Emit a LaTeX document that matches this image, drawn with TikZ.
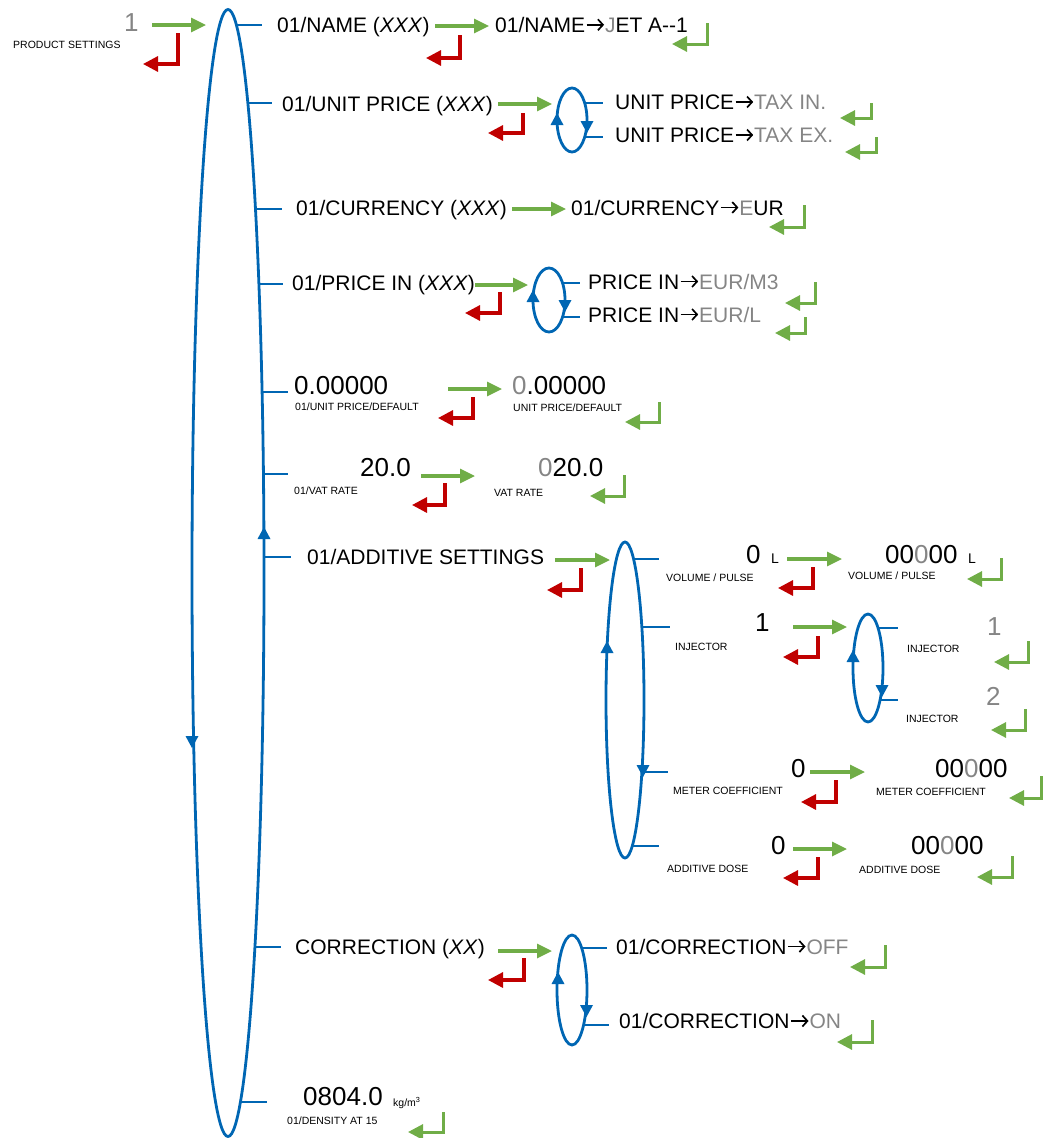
\documentclass[tikz,border=0pt]{standalone}
\usepackage{fontspec}
\setmainfont{Liberation Sans}
\usetikzlibrary{arrows.meta}
\definecolor{grn}{HTML}{70AD47}
\definecolor{rd}{HTML}{C00000}
\definecolor{blu}{HTML}{0066B3}
\definecolor{gry}{HTML}{858585}
\newcommand{\grayt}[1]{\textcolor{gry}{#1}}
\newcommand{\myarr}{\tikz[baseline=0pt,x=1pt,y=1pt]{\path (0,0) (20,0);\draw[black,line width=1.7pt,-{Straight Barb[length=5pt,width=11pt]}] (1.5,7.5) -- (19,7.5);}}
% green forward arrow: name, x1, x2, y
\newcommand\gomark[4]{\coordinate (#1a) at (#2,#4); \coordinate (#1b) at (#3,#4);
  \draw[goarr] (#1a) -- (#1b);}
% return arrow: style, name, x, ytop, ybot, xtip
\newcommand\retmark[6]{\coordinate (#2a) at (#3,#4); \coordinate (#2b) at (#6,#5);
  \draw[#1] (#2a) |- (#2b);}
% branch tick: x1, x2, y
\newcommand\branchto[3]{\draw[branch] (#1,#3) -- (#2,#3);}
\newcommand\uphead[2]{\fill[blu] (#1,#2) -- (#1-6.5,#2+12) -- (#1+6.5,#2+12) -- cycle;}
\newcommand\downhead[2]{\fill[blu] (#1,#2) -- (#1-6.5,#2-12) -- (#1+6.5,#2-12) -- cycle;}
\begin{document}
\begin{tikzpicture}[x=1pt,y=-1pt,
  lbl/.style={anchor=base west,inner sep=0pt,font=\fontsize{21}{24}\selectfont},
  bignum/.style={anchor=base west,inner sep=0pt,font=\fontsize{26}{30}\selectfont},
  sml/.style={anchor=base west,inner sep=0pt,font=\fontsize{10.5}{12}\selectfont},
  unitlbl/.style={anchor=base west,inner sep=0pt,font=\fontsize{14}{16}\selectfont},
  goarr/.style={draw=grn,line width=3.2pt,-{Triangle[length=15pt,width=14pt]}},
  backarr/.style={draw=rd,line width=3.2pt,line join=miter,-{Triangle[length=15pt,width=15pt]}},
  okarr/.style={draw=grn,line width=3pt,line join=miter,-{Triangle[length=15pt,width=15pt]}},
  branch/.style={draw=blu,line width=2.8pt},
  loopline/.style={draw=blu,line width=2.8pt}]
\useasboundingbox (0,0) rectangle (1043,1138);

% ---------- main loop ----------
\draw[loopline] (228,573) ellipse [x radius=36pt, y radius=563.5pt];
\uphead{264}{527}
\downhead{192}{748}

% ---------- product settings ----------
\node[bignum] (ps1) at (124,31) {\grayt{1}};
\node[sml] (pst) at (13,48) {PRODUCT SETTINGS};
\gomark{g0}{152}{206}{25}
\retmark{backarr}{r0}{178}{33}{64}{143}

% ---------- row 1 : name ----------
\branchto{236.4}{262}{25}
\node[lbl] (n1) at (277,32.3) {01/NAME (\textit{XXX})};
\gomark{g1}{435}{489}{26}
\retmark{backarr}{r1}{460}{35}{58}{426}
\node[lbl] (n1v) at (495,32.3) {01/NAME\myarr\grayt{J}ET A-{}-1};
\retmark{okarr}{k1}{707}{23}{44}{672}

% ---------- row 2 : unit price ----------
\branchto{248}{272}{103}
\node[lbl] (n2) at (282,111.5) {01/UNIT PRICE (\textit{XXX})};
\gomark{g2}{498}{552}{104}
\retmark{backarr}{r2}{523}{113}{133}{488}
\draw[loopline] (572,120) ellipse [x radius=15pt, y radius=32pt];
\uphead{557}{113}
\downhead{587}{133}
\branchto{584.7}{603}{103}
\branchto{584.7}{603}{137}
\node[lbl] (n2a) at (615,109.5) {UNIT PRICE\myarr\grayt{TAX IN.}};
\node[lbl] (n2b) at (615,142.5) {UNIT PRICE\myarr\grayt{TAX EX.}};
\retmark{okarr}{k2a}{871}{103}{118}{840}
\retmark{okarr}{k2b}{876}{137}{152}{845}

% ---------- row 3 : currency ----------
\branchto{255.5}{282}{209}
\node[lbl] (n3) at (296,215) {01/CURRENCY (\textit{XXX})};
\gomark{g3}{512}{566}{209}
\node[lbl] (n3v) at (571,215) {01/CURRENCY\myarr\grayt{E}UR};
\retmark{okarr}{k3}{804}{205}{227}{769}

% ---------- row 4 : price in ----------
\branchto{259}{283}{284}
\node[lbl] (n4) at (292,290) {01/PRICE IN (\textit{XXX})};
\gomark{g4}{475}{528}{285}
\retmark{backarr}{r4}{500}{292}{313}{465}
\draw[loopline] (549,300) ellipse [x radius=16pt, y radius=32pt];
\uphead{533}{290}
\downhead{565}{312}
\branchto{562.6}{580}{283}
\branchto{562.6}{580}{317}
\node[lbl] (n4a) at (588,289) {PRICE IN\myarr\grayt{EUR/M3}};
\node[lbl] (n4b) at (588,322) {PRICE IN\myarr\grayt{EUR/L}};
\retmark{okarr}{k4a}{815}{282}{303}{785}
\retmark{okarr}{k4b}{805}{317}{333}{775}

% ---------- row 5 : unit price default ----------
\branchto{262}{288}{392}
\node[bignum] (n5) at (294,394) {0.00000};
\node[sml] (n5l) at (295,410.7) {01/UNIT PRICE/DEFAULT};
\gomark{g5}{448}{502}{389}
\retmark{backarr}{r5}{473}{397}{418}{438}
\node[bignum] (n5v) at (512,394) {\grayt{0}.00000};
\node[sml] (n5vl) at (513,411.5) {UNIT PRICE/DEFAULT};
\retmark{okarr}{k5}{659}{402}{422}{625}

% ---------- row 6 : vat rate ----------
\branchto{263.4}{288}{474}
\node[bignum] (n6) at (360,476) {20.0};
\node[sml] (n6l) at (294,494) {01/VAT RATE};
\gomark{g6}{421}{475}{476}
\retmark{backarr}{r6}{445}{483}{505}{412}
\node[bignum] (n6v) at (538,476) {\grayt{0}20.0};
\node[sml] (n6vl) at (494,496) {VAT RATE};
\retmark{okarr}{k6}{624}{475}{496}{590}

% ---------- row 7 : additive settings ----------
\branchto{264}{291}{557}
\node[lbl] (n7) at (307,564.3) {01/ADDITIVE SETTINGS};
\gomark{g7}{555}{610}{560}
\retmark{backarr}{r7}{581}{568}{590}{547}
\draw[loopline] (625,700) ellipse [x radius=19pt, y radius=158pt];
\uphead{607}{641}
\downhead{643}{777}
\branchto{633.6}{659}{559}
\branchto{642}{670}{627}
\branchto{642}{668}{772}
\branchto{632}{659}{846}

% volume / pulse
\node[bignum] (a1) at (746,563) {0};
\node[unitlbl] (a1u) at (771,563) {L};
\node[sml] (a1l) at (666,581) {VOLUME / PULSE};
\gomark{g8}{787}{842}{559}
\retmark{backarr}{r8}{813}{567}{588}{778}
\node[bignum] (a1v) at (885,563) {00\grayt{0}00};
\node[unitlbl] (a1vu) at (968,563) {L};
\node[sml] (a1vl) at (848,579) {VOLUME / PULSE};
\retmark{okarr}{k8}{1001}{558}{579}{967}

% injector
\node[bignum] (a2) at (755,631.5) {1};
\node[sml] (a2l) at (675,650) {INJECTOR};
\gomark{g9}{793}{847}{627}
\retmark{backarr}{r9}{818}{636}{657}{783}
\draw[loopline] (868,668) ellipse [x radius=15pt, y radius=54pt];
\uphead{853}{650}
\downhead{882}{697}
\branchto{878}{898}{628}
\branchto{880}{898}{700}
\node[bignum] (a2a) at (987,635.5) {\grayt{1}};
\node[sml] (a2al) at (907,652) {INJECTOR};
\node[bignum] (a2b) at (986,705) {\grayt{2}};
\node[sml] (a2bl) at (906,722) {INJECTOR};
\retmark{okarr}{k9a}{1028}{641}{662}{994}
\retmark{okarr}{k9b}{1025}{709}{730}{991}

% meter coefficient
\node[bignum] (a3) at (791,777) {0};
\node[sml] (a3l) at (673,794) {METER COEFFICIENT};
\gomark{g10}{810}{865}{772}
\retmark{backarr}{r10}{836}{780}{802}{801}
\node[bignum] (a3v) at (935,777) {00\grayt{0}00};
\node[sml] (a3vl) at (876,795) {METER COEFFICIENT};
\retmark{okarr}{k10}{1041}{776}{798}{1009}

% additive dose
\node[bignum] (a4) at (771,854) {0};
\node[sml] (a4l) at (667,872) {ADDITIVE DOSE};
\gomark{g11}{793}{847}{849}
\retmark{backarr}{r11}{818}{857}{878}{783}
\node[bignum] (a4v) at (911,854) {00\grayt{0}00};
\node[sml] (a4vl) at (859,873) {ADDITIVE DOSE};
\retmark{okarr}{k11}{1012}{856}{877}{977}

% ---------- row 8 : correction ----------
\branchto{255}{281}{947}
\node[lbl] (c1) at (295,954) {CORRECTION (\textit{XX})};
\gomark{g12}{498}{552}{951}
\retmark{backarr}{r12}{524}{958}{980}{488}
\draw[loopline] (572,990) ellipse [x radius=15pt, y radius=55pt];
\uphead{558}{972}
\downhead{586.5}{1017}
\branchto{582}{607}{948}
\branchto{583.6}{609}{1025}
\node[lbl] (c1a) at (616,954) {01/CORRECTION\myarr\grayt{OFF}};
\node[lbl] (c1b) at (619,1028.5) {01/CORRECTION\myarr\grayt{ON}};
\retmark{okarr}{k12a}{885}{945}{967}{850}
\retmark{okarr}{k12b}{872}{1020}{1042}{837}

% ---------- row 9 : density ----------
\branchto{240.4}{267}{1102}
\node[bignum] (d1) at (303,1105) {0804.0};
\node[sml] (d1u) at (393,1106) {kg/m\textsuperscript{3}};
\node[sml] (d1l) at (287,1124) {01/DENSITY AT 15};
\retmark{okarr}{k13}{443}{1112}{1132}{408}
\end{tikzpicture}
\end{document}
